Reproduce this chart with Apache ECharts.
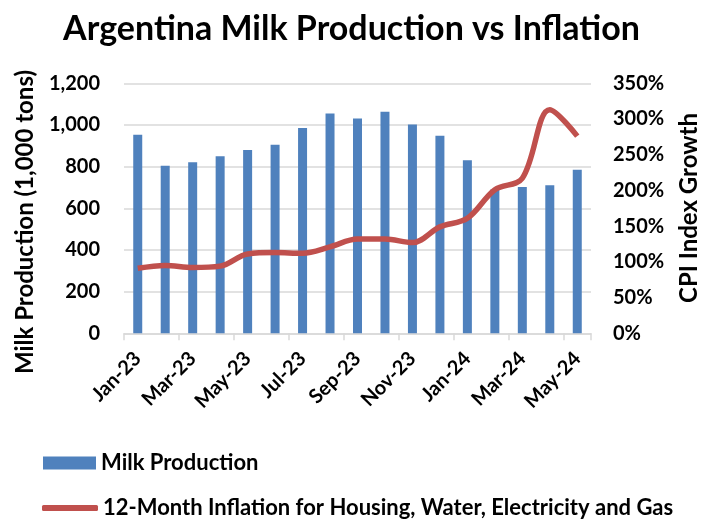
<!DOCTYPE html>
<html>
<head>
<meta charset="utf-8">
<script src="https://cdn.jsdelivr.net/npm/echarts@6/dist/echarts.min.js"></script>
<style>
  html, body { margin: 0; padding: 0; background: #fff; }
  #chart { width: 703px; height: 519px; }
</style>
</head>
<body>
<div id="chart"></div>
<script>
// Monthly milk production (thousand tons) and 12-month housing/utilities inflation (%)
const months = ['Jan-23','Feb-23','Mar-23','Apr-23','May-23','Jun-23','Jul-23','Aug-23','Sep-23','Oct-23','Nov-23','Dec-23',
                'Jan-24','Feb-24','Mar-24','Apr-24','May-24'];
const milkProduction = [953, 804, 821, 850, 880, 905, 985, 1055, 1031, 1063, 1002, 948, 831, 690, 702, 711, 785];
const housingInflation = [91, 95, 92, 94, 111, 113, 112, 121, 132, 132, 127, 149, 161, 201, 217, 313, 276];
const leftTicks = [0, 200, 400, 600, 800, 1000, 1200];
const rightTicks = [0, 50, 100, 150, 200, 250, 300, 350];

const FONT = 'Lato';
const GRID_GREY = '#d9d9d9';
const chart = echarts.init(document.getElementById('chart'));

chart.setOption({
  animation: false,
  backgroundColor: '#ffffff',
  textStyle: { fontFamily: FONT },
  title: {
    text: 'Argentina Milk Production vs Inflation',
    left: 'center',
    top: 7,
    textStyle: { fontFamily: FONT, fontWeight: 'bold', fontSize: 34, color: '#000' }
  },
  grid: { left: 124, right: 112, top: 83.3, bottom: 185.7, containLabel: false },
  legend: [
    {
      data: ['Milk Production'],
      left: 38, top: 447,
      icon: 'rect', itemWidth: 53, itemHeight: 13, itemGap: 5,
      textStyle: { fontFamily: FONT, fontWeight: 'bold', fontSize: 22, color: '#000' }
    },
    {
      data: ['12-Month Inflation for Housing, Water, Electricity and Gas'],
      left: 37, top: 492,
      icon: 'roundRect', itemWidth: 56, itemHeight: 6, itemGap: 5,
      textStyle: { fontFamily: FONT, fontWeight: 'bold', fontSize: 22, color: '#000' }
    }
  ],
  xAxis: {
    type: 'category',
    data: months,
    boundaryGap: true,
    axisLine: { show: true, lineStyle: { color: GRID_GREY, width: 1.5 } },
    axisTick: { show: true, interval: 1, length: 7, lineStyle: { color: GRID_GREY, width: 1.5 } },
    axisLabel: {
      interval: 1, rotate: 45, margin: 22,
      fontFamily: FONT, fontWeight: 'bold', fontSize: 20, color: '#000'
    }
  },
  yAxis: [
    {
      type: 'value', min: 0, max: 1200, interval: 200,
      axisLine: { show: false }, axisTick: { show: false },
      splitLine: { show: true, lineStyle: { color: GRID_GREY, width: 1.5 } },
      axisLabel: {
        margin: 24, fontFamily: FONT, fontWeight: 'bold', fontSize: 20, color: '#000',
        formatter: v => leftTicks.includes(v) ? v.toLocaleString('en-US') : ''
      }
    },
    {
      type: 'value', min: 0, max: 350, interval: 50,
      axisLine: { show: false }, axisTick: { show: false },
      splitLine: { show: false },
      axisLabel: {
        margin: 22, fontFamily: FONT, fontWeight: 'bold', fontSize: 20, color: '#000',
        formatter: v => rightTicks.includes(v) ? v + '%' : ''
      }
    }
  ],
  graphic: [
    {
      type: 'text', rotation: Math.PI / 2,
      left: 13, top: 70,
      style: {
        text: 'Milk Production (1,000 tons)',
        fontFamily: FONT, fontWeight: 'bold', fontSize: 24, fill: '#000'
      }
    },
    {
      type: 'text', rotation: Math.PI / 2,
      left: 677, top: 113,
      style: {
        text: 'CPI Index Growth',
        fontFamily: FONT, fontWeight: 'bold', fontSize: 24, fill: '#000'
      }
    }
  ],
  series: [
    {
      name: 'Milk Production',
      type: 'bar',
      yAxisIndex: 0,
      data: milkProduction,
      barWidth: 9,
      itemStyle: { color: '#4f81bd' }
    },
    {
      name: '12-Month Inflation for Housing, Water, Electricity and Gas',
      type: 'line',
      yAxisIndex: 1,
      data: housingInflation,
      smooth: 0.35,
      symbol: 'none',
      lineStyle: { color: '#c0504d', width: 5.5 },
      itemStyle: { color: '#c0504d' }
    }
  ]
});
</script>
</body>
</html>
